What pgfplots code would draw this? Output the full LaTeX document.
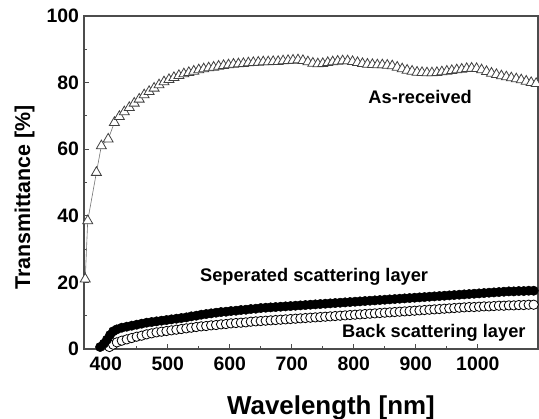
\documentclass[border=0pt]{standalone}
\usepackage{fontspec}
\setmainfont{Liberation Sans}
\usepackage{pgfplots}
\pgfplotsset{compat=1.18}

\begin{document}
\begin{tikzpicture}
\begin{axis}[
    scale only axis,
    width=454bp, height=333bp,
    xmin=365, xmax=1097, ymin=0, ymax=100,
    xtick={400,500,...,1000}, ytick={0,20,...,100},
    minor x tick num=1, minor y tick num=1,
    xtick pos=bottom, ytick pos=left, tick align=inside,
    major tick length=5bp, minor tick length=3bp,
    axis line style={line width=1.3bp, draw=black!70},
    tick style={line width=1.1bp, draw=black!70},
    /pgf/number format/assume math mode=true,
    /pgf/number format/1000 sep={},
    tick label style={font=\fontsize{19.5}{19.5}\selectfont\bfseries},
    xticklabel style={yshift=-4.5bp},
    yticklabel style={xshift=-1.5bp},
    xlabel={Wavelength [nm]},
    ylabel={Transmittance [\%]},
    xlabel style={font=\fontsize{26}{26}\selectfont\bfseries,
        at={(axis description cs:0.544,-0.176)}, anchor=center},
    ylabel style={font=\fontsize{21.5}{21.5}\selectfont\bfseries,
        at={(axis description cs:-0.131,0.455)}, anchor=center},
]
\coordinate (sw) at (rel axis cs:0,0);
\coordinate (ne) at (rel axis cs:1,1);

% back scattering layer (open circles)
\addplot[black, line width=0.5bp, mark=*, mark size=4.7,
    mark options={fill=white, draw=black, line width=0.8bp}] coordinates {
(406,0.6) (412,1.3) (418,2.0) (426,2.5) (434,2.9) (442,3.3) (450,3.7) (458,4.0)
(466,4.4) (474,4.7) (482,5.0) (490,5.2) (498,5.4) (506,5.6) (514,5.8) (522,6.0)
(530,6.2) (538,6.4) (546,6.6) (554,6.8) (562,6.9) (570,7.1) (578,7.2) (586,7.4)
(594,7.5) (602,7.7) (610,7.8) (618,7.9) (626,8.0) (634,8.2) (642,8.3) (650,8.4)
(658,8.5) (666,8.6) (674,8.7) (682,8.8) (690,8.9) (698,9.0) (706,9.1) (714,9.2)
(722,9.3) (730,9.4) (738,9.5) (746,9.6) (754,9.7) (762,9.8) (770,9.9) (778,10.0)
(786,10.1) (794,10.2) (802,10.3) (810,10.4) (818,10.5) (826,10.6) (834,10.7) (842,10.8)
(850,10.9) (858,11.0) (866,11.1) (874,11.2) (882,11.3) (890,11.4) (898,11.5) (906,11.6)
(914,11.7) (922,11.8) (930,11.9) (938,12.0) (946,12.1) (954,12.2) (962,12.3) (970,12.4)
(978,12.5) (986,12.6) (994,12.6) (1002,12.7) (1010,12.8) (1018,12.8) (1026,12.9) (1034,13.0)
(1042,13.0) (1050,13.1) (1058,13.1) (1066,13.2) (1074,13.2) (1082,13.3) (1090,13.3) (1098,13.3)
};

% seperated scattering layer (filled circles)
\addplot[black, line width=0.5bp, mark=*, mark size=4.7,
    mark options={fill=black, draw=black}] coordinates {
(391,0.6) (397,1.6) (402,2.8) (407,4.2) (412,5.3) (418,5.9) (426,6.4) (434,6.7)
(442,7.0) (450,7.3) (458,7.6) (466,7.9) (474,8.1) (482,8.3) (490,8.5) (498,8.7)
(506,8.9) (514,9.1) (522,9.3) (530,9.5) (538,9.8) (546,10.0) (554,10.3) (562,10.5)
(570,10.7) (578,10.9) (586,11.1) (594,11.2) (602,11.4) (610,11.5) (618,11.7) (626,11.8)
(634,12.0) (642,12.1) (650,12.3) (658,12.4) (666,12.5) (674,12.6) (682,12.7) (690,12.8)
(698,12.9) (706,13.0) (714,13.1) (722,13.2) (730,13.3) (738,13.4) (746,13.5) (754,13.6)
(762,13.7) (770,13.8) (778,13.9) (786,14.0) (794,14.1) (802,14.2) (810,14.3) (818,14.4)
(826,14.5) (834,14.6) (842,14.7) (850,14.8) (858,14.9) (866,15.0) (874,15.1) (882,15.2)
(890,15.3) (898,15.4) (906,15.5) (914,15.6) (922,15.7) (930,15.8) (938,15.9) (946,16.0)
(954,16.1) (962,16.2) (970,16.3) (978,16.4) (986,16.5) (994,16.6) (1002,16.7) (1010,16.8)
(1018,16.9) (1026,17.0) (1034,17.1) (1042,17.2) (1050,17.3) (1058,17.3) (1066,17.4) (1074,17.4)
(1082,17.5) (1090,17.5) (1098,17.6)
};

% as-received (open triangles)
\addplot[black!55, line width=0.6bp, mark=triangle*, mark size=5.8,
    mark options={fill=white, draw=black!75, line width=0.8bp}] coordinates {
(367,21.0) (371,38.5) (385,53.0) (393,61.0) (404,63.0) (414,68.0)
(422,69.8) (430,71.2) (438,72.5) (446,73.8) (454,75.0) (462,76.3) (470,77.3) (478,78.3)
(486,79.3) (494,80.2) (502,80.9) (510,81.5) (518,82.1) (526,82.6) (534,83.0) (542,83.4)
(550,83.8) (558,84.1) (566,84.4) (574,84.6) (582,84.9) (590,85.1) (598,85.3) (606,85.5)
(614,85.6) (622,85.7) (630,85.9) (638,86.0) (646,86.1) (654,86.2) (662,86.2) (670,86.3)
(678,86.3) (686,86.5) (694,86.6) (702,86.7) (710,86.8) (718,86.6) (726,86.2) (734,85.8)
(742,85.6) (750,85.7) (758,86.0) (766,86.2) (774,86.4) (782,86.5) (790,86.5) (798,86.3)
(806,86.0) (814,85.7) (822,85.5) (830,85.4) (838,85.3) (846,85.3) (854,85.2) (862,85.0)
(870,84.6) (878,84.1) (886,83.7) (894,83.4) (902,83.1) (910,83.0) (918,82.9) (926,82.9)
(934,83.0) (942,83.2) (950,83.4) (958,83.6) (966,83.8) (974,84.0) (982,84.2) (990,84.3)
(998,84.2) (1006,83.8) (1014,83.3) (1022,82.8) (1030,82.4) (1038,82.0) (1046,81.7) (1054,81.4)
(1062,81.1) (1070,80.8) (1078,80.4) (1086,80.0) (1094,79.7)
};

\node[font=\fontsize{18.3}{18.3}\selectfont\bfseries] at (axis cs:907,75.7) {As-received};
\node[font=\fontsize{18.3}{18.3}\selectfont\bfseries] at (axis cs:736,21.6) {Seperated scattering layer};
\node[font=\fontsize{18.3}{18.3}\selectfont\bfseries] at (axis cs:929,4.8) {Back scattering layer};
\end{axis}
\pgfresetboundingbox
\path ([shift={(-84bp,-70bp)}]sw) rectangle ([shift={(1bp,16bp)}]ne);
\end{tikzpicture}
\end{document}
